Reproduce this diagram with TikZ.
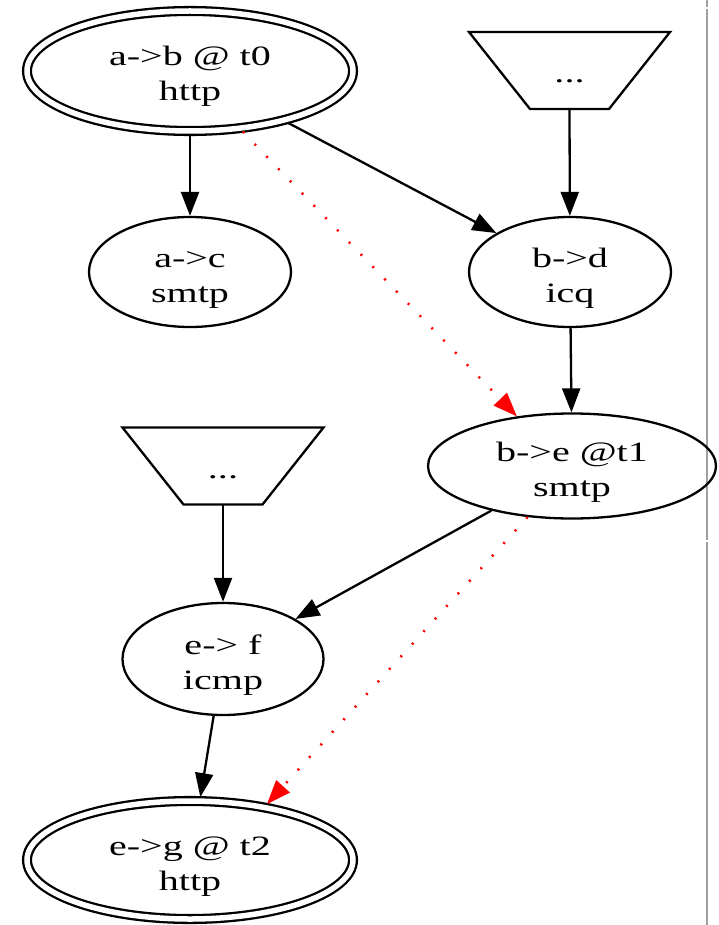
\documentclass[tikz,border=0pt]{standalone}
\usepackage{fontspec}
\setmainfont{Liberation Serif}[FakeStretch=1.43]
\usetikzlibrary{shapes.geometric,arrows.meta}
\begin{document}
\begin{tikzpicture}[x=1pt,y=-1pt,
  every node/.style={font=\fontsize{28}{35}\selectfont},
  ell/.style={ellipse, draw, line width=2.3pt, inner sep=0pt, align=center,
    text height=66pt, text depth=6pt},
  dbl/.style={ell, double, double distance=5.5pt, outer sep=4pt},
  trapbox/.style={rectangle, inner sep=0pt, outer sep=0pt, minimum width=201pt,
    minimum height=77pt, text height=24pt, text depth=0pt},
  trapline/.style={line width=2.3pt, line join=miter},
  conn/.style={line width=2.3pt, -{Triangle[length=24pt,width=18pt]}},
  redconn/.style={red, line width=2.5pt, dash pattern=on 2pt off 15pt,
    -{Triangle[length=24pt,width=18pt]}},
  rule/.style={line width=2pt, color={rgb,255:red,160;green,160;blue,160}},
]
\useasboundingbox (0,0) rectangle (718,925);

% gray rule on the right
\coordinate (r0) at (707,0);
\coordinate (r1) at (707,7);
\coordinate (r2) at (707,9);
\coordinate (r3) at (707,540);
\coordinate (r4) at (707,542);
\coordinate (r5) at (707,925);
\draw[rule] (r0) -- (r1);
\draw[rule] (r2) -- (r3);
\draw[rule] (r4) -- (r5);

% nodes
\node[dbl, minimum width=326pt, minimum height=120pt] (ab) at (190,71) {a->b @ t0\\http};
\node[trapbox] (t1) at (569.5,70.5) {...};
\node[ell, minimum width=202pt, minimum height=110pt] (ac) at (190,272) {a->c\\smtp};
\node[ell, minimum width=202pt, minimum height=110pt] (bd) at (570,272) {b->d\\icq};
\node[ell, minimum width=288pt, minimum height=105pt] (be) at (572,466) {b->e @t1\\smtp};
\node[trapbox] (t2) at (223,466) {...};
\node[ell, minimum width=201pt, minimum height=112pt] (ef) at (223,659) {e-> f\\icmp};
\node[dbl, minimum width=326pt, minimum height=118pt] (eg) at (190,860) {e->g @ t2\\http};

% trapezium outlines
\draw[trapline] (t1.north west) -- (t1.north east) -- ([xshift=-61pt]t1.south east)
  -- ([xshift=61pt]t1.south west) -- cycle;
\draw[trapline] (t2.north west) -- (t2.north east) -- ([xshift=-61pt]t2.south east)
  -- ([xshift=61pt]t2.south west) -- cycle;

% connectors
\draw[conn] (ab) -- (ac);
\draw[conn] (ab) -- (bd);
\draw[conn] (t1.south) -- (bd);
\draw[conn] (bd) -- (be);
\draw[conn] (t2.south) -- (ef);
\draw[conn] (be) -- (ef);
\draw[conn] (ef) -- (eg);
\draw[redconn] (ab.311.6) -- (be.138);
\draw[redconn] (be.229) -- (eg.36.6);
\end{tikzpicture}
\end{document}
